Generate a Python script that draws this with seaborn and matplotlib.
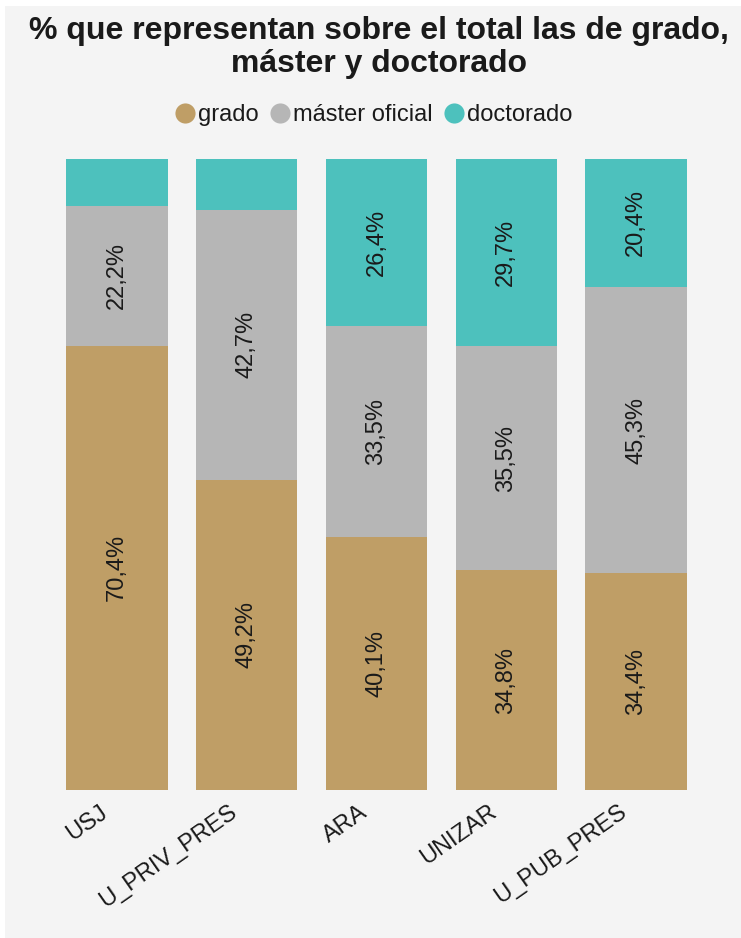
import matplotlib
matplotlib.use("Agg")
import matplotlib.pyplot as plt
from matplotlib.lines import Line2D
from matplotlib.patches import Rectangle
from matplotlib.transforms import ScaledTranslation
import seaborn as sns
import pandas as pd
import numpy as np

# ---- data ----
categories = ["USJ", "U_PRIV_PRES", "ARA", "UNIZAR", "U_PUB_PRES"]
grado = [70.4, 49.2, 40.1, 34.8, 34.4]
master = [22.2, 42.7, 33.5, 35.5, 45.3]
doctorado = [7.4, 8.1, 26.4, 29.7, 20.4]
series_names = ["grado", "máster oficial", "doctorado"]
colors = ["#BF9E66", "#B6B6B6", "#4DC1BD"]
title = "% que representan sobre el total las de grado,\nmáster y doctorado"

sns.set_theme(style="white")
plt.rcParams["font.family"] = ["Liberation Sans", "DejaVu Sans"]
TXT = "#1a1a1a"

fig = plt.figure(figsize=(7.41, 9.38), dpi=100)
fig.patch.set_facecolor("white")
fig.patches.append(Rectangle((5 / 741, 0), 1, 1 - 6 / 938, transform=fig.transFigure,
                             facecolor="#F4F4F4", edgecolor="none", zorder=-10))

ax = fig.add_axes([52 / 741, 1 - 790 / 938, (701 - 52) / 741, (790 - 159) / 938])
ax.set_facecolor("none")

df = pd.DataFrame({"cat": categories, "grado": grado, "master": master, "doctorado": doctorado})
df["c1"] = df["grado"]
df["c2"] = df["grado"] + df["master"]
df["c3"] = df["c2"] + df["doctorado"]

for col, c in zip(["c3", "c2", "c1"], colors[::-1]):
    sns.barplot(data=df, x="cat", y=col, color=c, width=0.78, saturation=1,
                linewidth=0, ax=ax, order=categories, errorbar=None)

ax.set_ylim(0, 100)
ax.set_xlim(-0.5, len(categories) - 0.5)
for s in ax.spines.values():
    s.set_visible(False)
ax.set_yticks([])
ax.set_xlabel("")
ax.set_ylabel("")

# segment labels
for i in range(len(categories)):
    bottom = 0
    for v in (grado[i], master[i], doctorado[i]):
        if v >= 10:
            ax.text(i, bottom + v / 2, f"{v:.1f}%".replace(".", ","), rotation=90,
                    ha="center", va="center", fontsize=17, color=TXT)
        bottom += v

# tick labels
ax.tick_params(axis="x", length=0, pad=0)
ax.set_xticks(range(len(categories)))
ax.set_xticklabels(categories, rotation=35, ha="right", va="top",
                   rotation_mode="anchor", fontsize=17, color=TXT)
off = ScaledTranslation(-18 / 100, -11 / 100, fig.dpi_scale_trans)
for lab in ax.get_xticklabels():
    lab.set_transform(lab.get_transform() + off)

# legend
handles = [Line2D([0], [0], marker="o", linestyle="", markersize=14.5,
                  markerfacecolor=c, markeredgecolor="none") for c in colors]
fig.legend(handles, series_names, loc="center", bbox_to_anchor=(374 / 741, 1 - 115 / 938),
           ncol=3, frameon=False, fontsize=17, handlelength=0.8, handletextpad=0.15,
           columnspacing=0.5, labelcolor=TXT, borderaxespad=0)

fig.text(379 / 741, 1 - 16 / 938, title, ha="center", va="top", fontsize=23,
         fontweight="bold", color=TXT, linespacing=1.12)

fig.savefig("out.png", dpi=100, facecolor=fig.get_facecolor())
